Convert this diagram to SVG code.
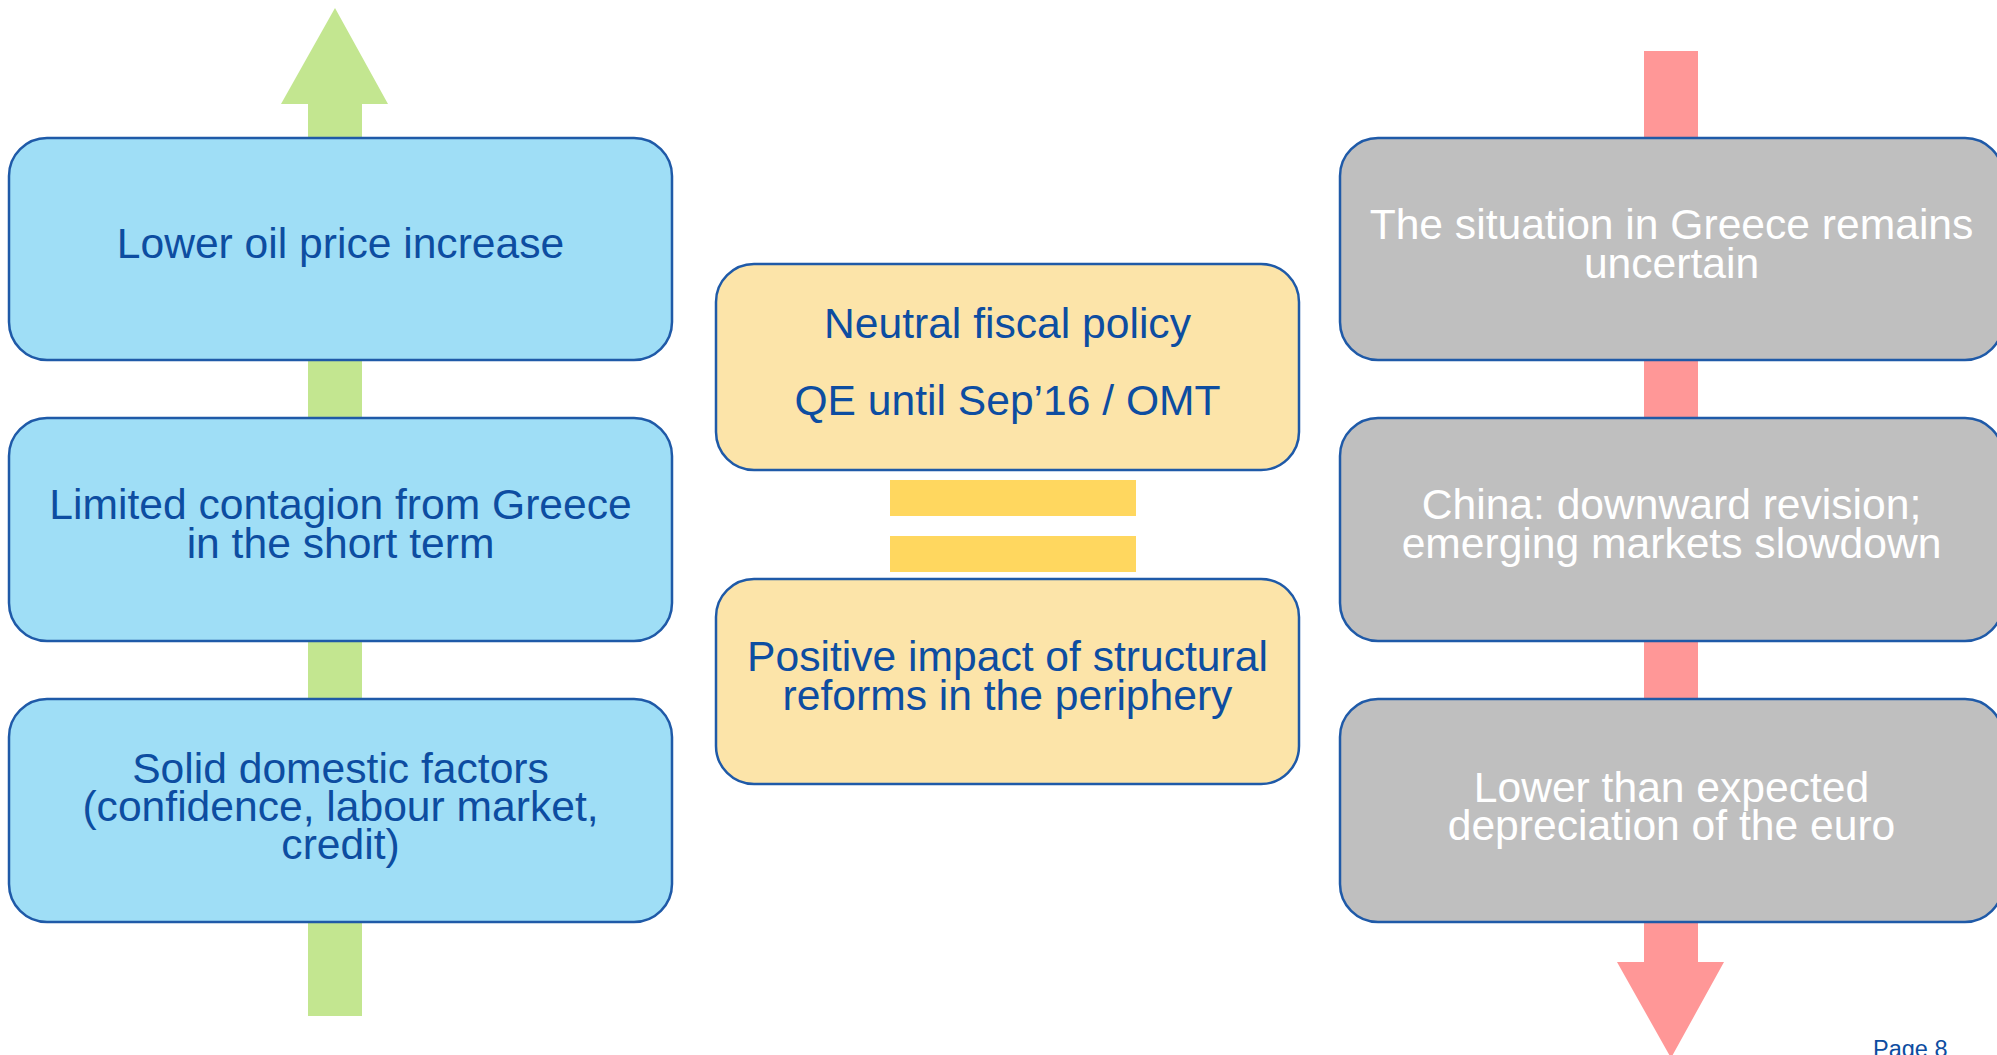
<svg xmlns="http://www.w3.org/2000/svg" width="1997" height="1055" viewBox="0 0 1997 1055">
<style>
.box{stroke:#1F5AA8;stroke-width:2.5}
.blue{fill:#9FDEF6}
.yel{fill:#FCE4A9}
.gray{fill:#BFBFBF}
.t{font-family:"Liberation Sans",Arial,sans-serif;font-size:42.6px;text-anchor:middle}
.tb{fill:#0D4DA1}
.tw{fill:#FFFFFF}
</style>
<rect width="1997" height="1055" fill="#FFFFFF"/>
<g id="connectors">
<polygon points="335,8 388,104 362,104 362,1016 308,1016 308,104 281,104" fill="#C3E690"/>
<polygon points="1644,51 1698,51 1698,962 1724,962 1671,1058 1617,962 1644,962" fill="#FF9797"/>
<rect x="890" y="480" width="246" height="36" fill="#FFD75F"/>
<rect x="890" y="536" width="246" height="36" fill="#FFD75F"/>
</g>
<g id="node-oil">
<rect class="box blue" x="9" y="138" width="663" height="222" rx="38"/>
<text class="t tb" x="340.5" y="258">Lower oil price increase</text>
</g>
<g id="node-contagion">
<rect class="box blue" x="9" y="418" width="663" height="223" rx="38"/>
<text class="t tb" x="340.5" y="519">Limited contagion from Greece</text>
<text class="t tb" x="340.5" y="558">in the short term</text>
</g>
<g id="node-domestic">
<rect class="box blue" x="9" y="699" width="663" height="223" rx="38"/>
<text class="t tb" x="340.5" y="783">Solid domestic factors</text>
<text class="t tb" x="340.5" y="821">(confidence, labour market,</text>
<text class="t tb" x="340.5" y="859">credit)</text>
</g>
<g id="node-policy">
<rect class="box yel" x="716" y="264" width="583" height="206" rx="38"/>
<text class="t tb" x="1007.5" y="338">Neutral fiscal policy</text>
<text class="t tb" x="1007.5" y="415">QE until Sep’16 / OMT</text>
</g>
<g id="node-reforms">
<rect class="box yel" x="716" y="579" width="583" height="205" rx="38"/>
<text class="t tb" x="1007.5" y="671">Positive impact of structural</text>
<text class="t tb" x="1007.5" y="710">reforms in the periphery</text>
</g>
<g id="node-greece">
<rect class="box gray" x="1340" y="138" width="663" height="222" rx="38"/>
<text class="t tw" x="1671.5" y="239">The situation in Greece remains</text>
<text class="t tw" x="1671.5" y="278">uncertain</text>
</g>
<g id="node-china">
<rect class="box gray" x="1340" y="418" width="663" height="223" rx="38"/>
<text class="t tw" x="1671.5" y="519">China: downward revision;</text>
<text class="t tw" x="1671.5" y="558">emerging markets slowdown</text>
</g>
<g id="node-euro">
<rect class="box gray" x="1340" y="699" width="663" height="223" rx="38"/>
<text class="t tw" x="1671.5" y="802">Lower than expected</text>
<text class="t tw" x="1671.5" y="840">depreciation of the euro</text>
</g>
<text x="1873" y="1057" font-family="Liberation Sans, Arial, sans-serif" font-size="23.5" fill="#0D4DA1">Page 8</text>
</svg>
